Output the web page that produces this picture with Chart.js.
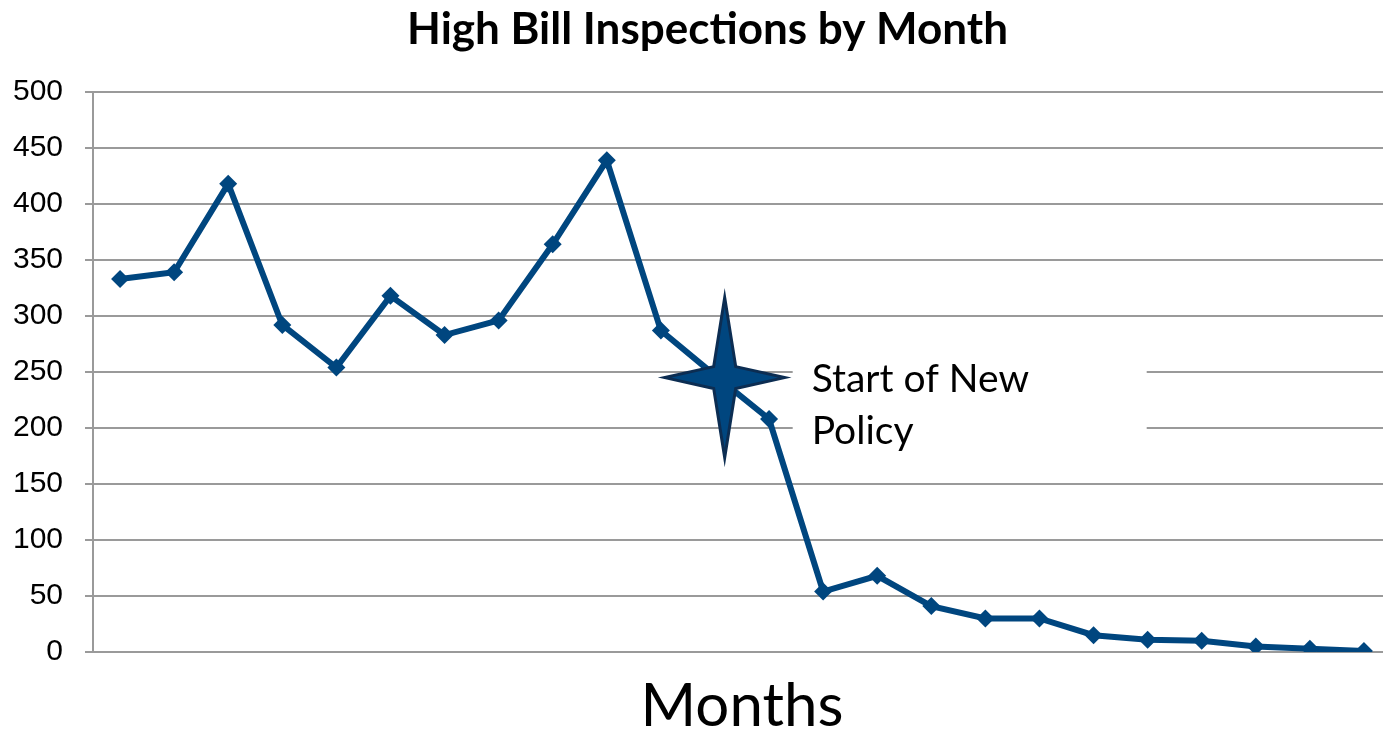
<!DOCTYPE html>
<html>
<head>
<meta charset="utf-8">
<script src="https://cdn.jsdelivr.net/npm/chart.js@4"></script>
<style>
  html, body { margin: 0; padding: 0; background: #fff; }
  #wrap { width: 1383px; height: 731px; position: relative; }
</style>
</head>
<body>
<div id="wrap"><canvas id="inspectionsChart"></canvas></div>
<script>
// 24 months, no labels shown on the axis
const months = ['M1', 'M2', 'M3', 'M4', 'M5', 'M6', 'M7', 'M8', 'M9', 'M10', 'M11', 'M12',
    'M13', 'M14', 'M15', 'M16', 'M17', 'M18', 'M19', 'M20', 'M21', 'M22', 'M23', 'M24'];
const inspections = [333, 339, 418, 292, 254, 318, 283, 296, 364, 439, 287, 247,
    208, 54, 68, 41, 30, 30, 15, 11, 10, 5, 3, 1];
const yTicks = [0, 50, 100, 150, 200, 250, 300, 350, 400, 450, 500];

const chartTitle = 'High Bill Inspections by Month';

// annotation: star a bit after month 12 and a note next to it
const policyStart = { index: 11, shift: 0.18, value: 245 };
const policyText = ['Start of New', 'Policy'];

const lineColor = '#00467f';
const gridColor = '#9a9a9a';

// the original plot area runs a few pixels past the right edge of the picture
const overhang = 8;
const widenPlot = {
    id: 'widenPlot',
    afterLayout(chart) {
        const x = chart.scales.x;
        const right = chart.width + overhang;
        x.right = right;
        x.width = right - x.left;
        x.configure();
        chart.chartArea.right = right;
        chart.chartArea.width = right - chart.chartArea.left;
    }
};

// title is drawn by hand so it can sit slightly right of the canvas centre, like the original
const titleDraw = {
    id: 'titleDraw',
    afterDraw(chart) {
        const { ctx } = chart;
        ctx.save();
        ctx.fillStyle = '#000';
        ctx.font = 'bold 44px Lato';
        ctx.textAlign = 'center';
        ctx.textBaseline = 'middle';
        ctx.fillText(chartTitle, chart.width / 2 + 16, 30);
        ctx.restore();
    }
};

const starCenter = (chart) => {
    const { x, y } = chart.scales;
    const x0 = x.getPixelForValue(policyStart.index);
    const x1 = x.getPixelForValue(policyStart.index + 1);
    return { cx: x0 + (x1 - x0) * policyStart.shift, cy: y.getPixelForValue(policyStart.value) };
};

const policyNote = {
    id: 'policyNote',
    beforeDatasetsDraw(chart) {
        const { ctx } = chart;
        const { cx, cy } = starCenter(chart);
        // white box behind the text hides the gridlines
        ctx.save();
        ctx.fillStyle = '#fff';
        ctx.fillRect(cx + 68, cy - 45, 354, 135);
        ctx.restore();
    },
    afterDatasetsDraw(chart) {
        const { ctx } = chart;
        const { cx, cy } = starCenter(chart);
        const rx = 60, ry = 80, inner = 11;

        ctx.save();
        ctx.beginPath();
        ctx.moveTo(cx, cy - ry);
        ctx.lineTo(cx + inner, cy - inner);
        ctx.lineTo(cx + rx, cy);
        ctx.lineTo(cx + inner, cy + inner);
        ctx.lineTo(cx, cy + ry);
        ctx.lineTo(cx - inner, cy + inner);
        ctx.lineTo(cx - rx, cy);
        ctx.lineTo(cx - inner, cy - inner);
        ctx.closePath();
        ctx.fillStyle = lineColor;
        ctx.fill();
        ctx.lineWidth = 3;
        ctx.strokeStyle = '#0c2d52';
        ctx.lineJoin = 'miter';
        ctx.stroke();

        ctx.fillStyle = '#000';
        ctx.font = '39px Lato';
        ctx.textAlign = 'left';
        ctx.textBaseline = 'middle';
        policyText.forEach((t, i) => {
            ctx.fillText(t, cx + 87, cy + 2 + i * 52);
        });
        ctx.restore();
    }
};

const ctx = document.getElementById('inspectionsChart').getContext('2d');
new Chart(ctx, {
    type: 'line',
    data: {
        labels: months,
        datasets: [{
            label: 'High Bill Inspections',
            data: inspections,
            borderColor: lineColor,
            backgroundColor: lineColor,
            borderWidth: 6,
            tension: 0,
            pointStyle: 'rectRot',
            pointRadius: 9,
            pointBorderWidth: 0,
        }]
    },
    options: {
        responsive: true,
        maintainAspectRatio: false,
        animation: false,
        layout: { padding: { left: 0, right: 0, top: 92, bottom: 0 } },
        plugins: {
            legend: { display: false },
            tooltip: { enabled: false },
            title: { display: false }
        },
        scales: {
            x: {
                offset: true,
                grid: { display: false, drawTicks: false },
                border: { display: true, color: gridColor, width: 2 },
                ticks: { display: false },
                title: {
                    display: true,
                    text: 'Months',
                    color: '#000',
                    font: { family: 'Lato', size: 60, lineHeight: 0.8 },
                    padding: { top: 0, bottom: 0 }
                },
                afterFit: (scale) => { scale.height = 79; }
            },
            y: {
                min: 0,
                max: 500,
                afterBuildTicks: (scale) => { scale.ticks = yTicks.map(v => ({ value: v })); },
                grid: { color: gridColor, lineWidth: 2, tickLength: 8 },
                border: { display: true, color: gridColor, width: 2 },
                ticks: {
                    color: '#000',
                    padding: 22,
                    font: { family: 'Liberation Sans', size: 30 }
                },
                afterFit: (scale) => { scale.width = 93; }
            }
        }
    },
    plugins: [widenPlot, policyNote, titleDraw]
});
</script>
</body>
</html>
